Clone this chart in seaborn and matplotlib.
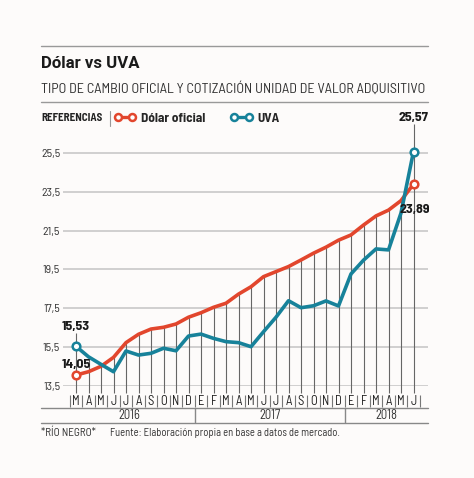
import numpy as np
import pandas as pd
import matplotlib.pyplot as plt
import matplotlib.transforms as mtransforms
from matplotlib.lines import Line2D
from matplotlib import font_manager
import seaborn as sns

# Datos
meses = ['M', 'A', 'M', 'J', 'J', 'A', 'S', 'O', 'N', 'D',
         'E', 'F', 'M', 'A', 'M', 'J', 'J', 'A', 'S', 'O', 'N', 'D',
         'E', 'F', 'M', 'A', 'M', 'J']
anios = ['2016', '2017', '2018']
meses_por_anio = [10, 12, 6]

dolar = [14.05, 14.22, 14.50, 14.96, 15.72, 16.15, 16.42, 16.51, 16.68, 17.03,
         17.26, 17.54, 17.75, 18.22, 18.60, 19.12, 19.38, 19.64, 19.98, 20.33, 20.64, 21.00,
         21.27, 21.78, 22.25, 22.55, 23.04, 23.89]
uva = [15.53, 14.99, 14.60, 14.22, 15.29, 15.08, 15.17, 15.43, 15.30, 16.06,
       16.16, 15.94, 15.77, 15.72, 15.51, 16.28, 17.03, 17.88, 17.52, 17.62, 17.87, 17.61,
       19.26, 19.97, 20.55, 20.50, 22.40, 25.57]

yticks = [13.5, 15.5, 17.5, 19.5, 21.5, 23.5, 25.5]
ytick_labels = ['13,5', '15,5', '17,5', '19,5', '21,5', '23,5', '25,5']

ROJO = '#e2462d'
AZUL = '#17829a'
FONDO = '#fdfbfa'

sns.set_theme(style='white')
nombres = {f.name for f in font_manager.fontManager.ttflist}
fuente = next((f for f in ['Barlow Semi Condensed', 'Liberation Sans Narrow', 'Asap Condensed']
               if f in nombres), 'Roboto')
plt.rcParams['font.family'] = [fuente, 'DejaVu Sans']

W, H = 474, 478
fx = lambda px: px / W
fy = lambda py: 1 - py / H

df = pd.DataFrame({
    'mes': list(range(len(meses))) * 2,
    'valor': dolar + uva,
    'serie': ['Dólar oficial'] * len(dolar) + ['UVA'] * len(uva),
})

fig = plt.figure(figsize=(W / 100, H / 100), dpi=100, facecolor=FONDO)
ax = fig.add_axes([fx(63), fy(385.7), fx(428) - fx(63), fy(120) - fy(385.7)])
ax.set_facecolor(FONDO)

n = len(meses)
x_izq = -(76 - 63) / 12.5
x_der = (n - 1) + (428 - 413.5) / 12.5
ax.set_xlim(x_izq, x_der)
ax.set_ylim(13.5, 13.5 + 265.7 / 19.4)

# lineas verticales por mes
tope = np.maximum(dolar, uva)
tope[0] = uva[0] + 0.7
tope[-1] = uva[-1] + 1.4
ax.vlines(range(n), 13.12, tope, color='#666', lw=0.8, zorder=1, clip_on=False)

sns.lineplot(data=df, x='mes', y='valor', hue='serie',
             palette={'Dólar oficial': ROJO, 'UVA': AZUL},
             lw=2.6, ax=ax, legend=False, zorder=3)

ax.plot([0, n - 1], [dolar[0], dolar[-1]], 'o', ms=5.5, mfc='white', mec=ROJO, mew=1.8, zorder=4)
ax.plot([0, n - 1], [uva[0], uva[-1]], 'o', ms=5.5, mfc='white', mec=AZUL, mew=1.8, zorder=4)

ax.set_yticks(yticks, ytick_labels)
ax.yaxis.grid(True, color='#c4c4c4', lw=1.1, zorder=0)
ax.xaxis.grid(False)
ax.set_xticks(range(n), meses)
ax.tick_params(axis='x', length=0, pad=6.5, labelsize=9, labelcolor='#222')
ax.tick_params(axis='y', length=0, pad=2, labelsize=8.5, labelcolor='#333')
ax.set_xlabel('')
ax.set_ylabel('')
for s in ax.spines.values():
    s.set_visible(False)

# etiquetas de valores
etq = dict(textcoords='offset points', ha='center', va='center',
           fontsize=10, fontweight='bold', color='#1a1a1a')
ax.annotate('15,53', (0, uva[0]), xytext=(0, 14.5), **etq)
ax.annotate('14,05', (0, dolar[0]), xytext=(0, 7.5), **etq)
ax.annotate('25,57', (n - 1, uva[-1]), xytext=(0, 24.5), **etq)
ax.annotate('23,89', (n - 1, dolar[-1]), xytext=(1, -18), **etq)

# fila de meses y años
tr = mtransforms.blended_transform_factory(ax.transData, fig.transFigure)
ax.vlines(np.arange(n + 1) - 0.5, fy(395), fy(407), color='#777', lw=0.8,
          transform=tr, clip_on=False)
for yy in (408.3, 422.7):
    fig.add_artist(Line2D([fx(41), fx(428)], [fy(yy), fy(yy)], color='#888', lw=1))
cortes = np.cumsum(meses_por_anio)[:-1] - 0.5
ax.vlines(cortes, fy(422.7), fy(408.3), color='#888', lw=1, transform=tr, clip_on=False)
bordes = [x_izq] + list(cortes) + [x_der]
for i, anio in enumerate(anios):
    ax.text((bordes[i] + bordes[i + 1]) / 2, fy(415.7), anio, transform=tr,
            ha='center', va='center', fontsize=9, color='#333')

# encabezado
fig.add_artist(Line2D([fx(41), fx(428)], [fy(45.7), fy(45.7)], color='#999', lw=1))
fig.add_artist(Line2D([fx(41), fx(428)], [fy(101.7), fy(101.7)], color='#999', lw=1))
titulo = fig.text(fx(41), fy(63.5), 'Dólar vs UVA', ha='left', va='center',
                  fontsize=14, fontweight='bold', color='#1a1a1a',
                  family=['Roboto', 'DejaVu Sans'])
subtitulo = fig.text(fx(41), fy(89),
                     'TIPO DE CAMBIO OFICIAL Y COTIZACIÓN UNIDAD DE VALOR ADQUISITIVO',
                     ha='left', va='center', fontsize=10, color='#333')

# referencias
refs = fig.text(fx(41), fy(118), 'REFERENCIAS', ha='left', va='center',
                fontsize=7.5, fontweight='bold', color='#222')
fig.add_artist(Line2D([fx(110), fx(110)], [fy(111), fy(126)], color='#999', lw=0.8))
handles = [Line2D([], [], color=ROJO, lw=2.4, marker='o', ms=5, mfc='white', mew=1.8),
           Line2D([], [], color=AZUL, lw=2.4, marker='o', ms=5, mfc='white', mew=1.8)]
fig.legend(handles, ['Dólar oficial', 'UVA'], loc='center left',
           bbox_to_anchor=(fx(114), fy(118)), ncol=2, frameon=False, numpoints=2,
           handlelength=1.7, handletextpad=0.35, columnspacing=1.9,
           borderpad=0, borderaxespad=0,
           prop={'weight': 'bold', 'size': 9.5})

# pie
fig.text(fx(41), fy(433), '*RÍO NEGRO*', ha='left', va='center', fontsize=8, color='#333')
fuente_txt = fig.text(fx(110), fy(433), 'Fuente: Elaboración propia en base a datos de mercado.',
                      ha='left', va='center', fontsize=8, color='#333')

# ajustar tamaños al ancho del original
rend = fig.canvas.get_renderer()
for t, ancho in [(titulo, 99), (subtitulo, 385), (refs, 60), (fuente_txt, 230)]:
    w = t.get_window_extent(rend).width
    t.set_fontsize(t.get_fontsize() * ancho / w)

fig.savefig('out.png', dpi=100, facecolor=FONDO)
